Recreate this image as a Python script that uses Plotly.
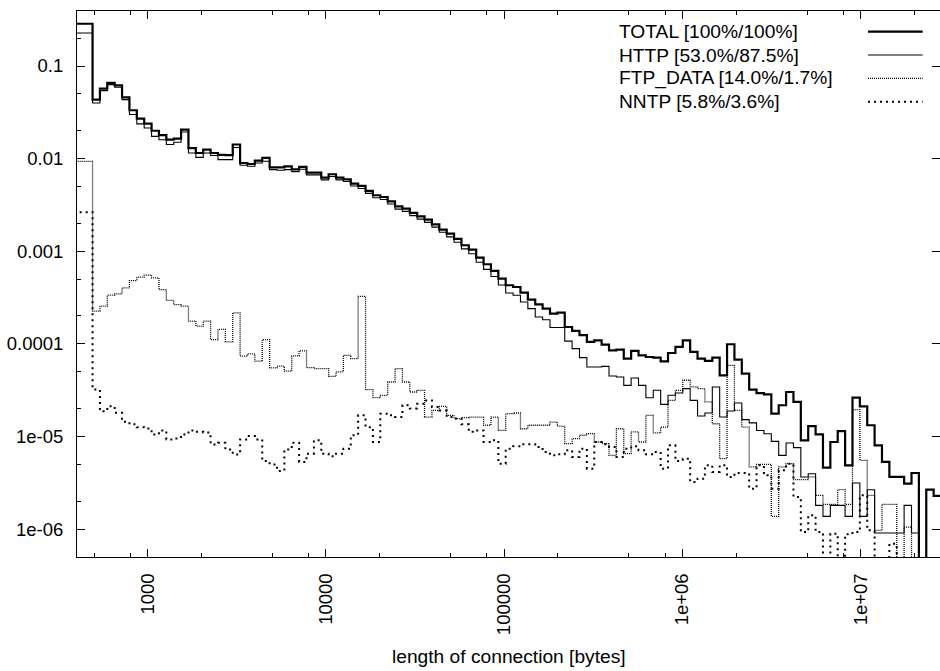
import numpy as np
import plotly.graph_objects as go

# ---------------- data ----------------
# Histogram bins: bin 0 collects everything below 1.1**65 bytes,
# bin k (k >= 1) covers [1.1**(64+k), 1.1**(65+k)] bytes.
bin_ratio = 1.1
first_upper_exp = 65
n_bins = 116

total = [
    0.286, 0.0434, 0.0569, 0.0656, 0.0618, 0.0459, 0.0333, 0.0270, 0.0239, 0.0200,
    0.0179, 0.0160, 0.0164, 0.0206, 0.0130, 0.0115, 0.0125, 0.0115, 0.0110, 0.0109,
    0.0142, 0.00897, 0.00875, 0.00951, 0.0102, 0.00805, 0.00805, 0.00826, 0.00767, 0.00813,
    0.00706, 0.00706, 0.00624, 0.00678, 0.00624, 0.00598, 0.00537, 0.00507, 0.00448, 0.00402,
    0.00385, 0.00346, 0.00305, 0.00288, 0.00259, 0.00238, 0.00219, 0.00195, 0.00171, 0.00155,
    0.00136, 0.00116, 0.00104, 8.53e-4, 7.23e-4, 6.12e-4, 5.06e-4, 4.29e-4, 4.11e-4, 3.57e-4,
    3.00e-4, 2.67e-4, 2.40e-4, 2.12e-4, 2.17e-4, 1.52e-4, 1.38e-4, 1.24e-4, 1.05e-4, 1.09e-4,
    9.79e-5, 8.51e-5, 8.65e-5, 6.92e-5, 8.38e-5, 7.52e-5, 7.21e-5, 7.10e-5, 6.47e-5, 7.96e-5,
    9.25e-5, 1.09e-4, 8.17e-5, 6.92e-5, 6.53e-5, 7.10e-5, 4.57e-5, 9.89e-5, 6.75e-5, 4.76e-5,
    3.20e-5, 2.94e-5, 2.85e-5, 1.76e-5, 2.17e-5, 3.02e-5, 2.36e-5, 9.08e-6, 1.29e-5, 1.05e-5,
    4.60e-6, 8.71e-6, 1.14e-5, 4.88e-6, 2.62e-5, 2.11e-5, 1.32e-5, 8.02e-6, 5.30e-6, 3.65e-6,
    3.65e-6, 3.09e-6, 4.03e-6, 0, 2.66e-6, 2.28e-6,
]

http = [
    0.227, 0.0399, 0.0542, 0.0630, 0.0589, 0.0434, 0.0299, 0.0237, 0.0214, 0.0174,
    0.0160, 0.0142, 0.0150, 0.0194, 0.0115, 0.0103, 0.0115, 0.0108, 0.00975, 0.00975,
    0.0132, 0.00847, 0.00826, 0.00897, 0.00935, 0.00760, 0.00748, 0.00760, 0.00724, 0.00767,
    0.00667, 0.00667, 0.00589, 0.00640, 0.00589, 0.00565, 0.00507, 0.00476, 0.00421, 0.00378,
    0.00362, 0.00323, 0.00285, 0.00269, 0.00242, 0.00222, 0.00205, 0.00182, 0.00160, 0.00143,
    0.00125, 0.00106, 9.38e-4, 7.60e-4, 6.37e-4, 5.33e-4, 4.31e-4, 3.54e-4, 3.34e-4, 2.83e-4,
    2.40e-4, 1.95e-4, 1.82e-4, 1.50e-4, 1.50e-4, 1.07e-4, 8.87e-5, 7.10e-5, 5.62e-5, 5.62e-5,
    5.71e-5, 4.50e-5, 4.39e-5, 3.56e-5, 4.28e-5, 3.56e-5, 2.62e-5, 3.15e-5, 2.22e-5, 2.78e-5,
    2.94e-5, 3.28e-5, 2.45e-5, 1.66e-5, 1.79e-5, 3.42e-5, 1.62e-5, 1.88e-5, 2.30e-5, 1.52e-5,
    1.40e-5, 1.16e-5, 1.07e-5, 8.85e-6, 6.25e-6, 8.49e-6, 7.57e-6, 3.65e-6, 3.96e-6, 1.80e-6,
    1.37e-6, 1.80e-6, 1.80e-6, 1.37e-6, 3.14e-6, 1.37e-6, 2.66e-6, 9.06e-7, 9.06e-7, 9.06e-7,
    9.06e-7, 1.80e-6, 9.06e-7, 0, 0, 0,
]

ftp_data = [
    0.00935, 2.25e-4, 2.55e-4, 3.35e-4, 3.47e-4, 4.02e-4, 4.82e-4, 5.24e-4, 5.51e-4, 5.15e-4,
    3.85e-4, 2.94e-4, 2.65e-4, 2.55e-4, 1.76e-4, 1.55e-4, 1.76e-4, 1.11e-4, 1.43e-4, 1.05e-4,
    2.16e-4, 7.36e-5, 7.80e-5, 6.50e-5, 1.11e-4, 5.51e-5, 5.74e-5, 5.07e-5, 7.41e-5, 8.38e-5,
    5.53e-5, 5.40e-5, 5.40e-5, 4.46e-5, 4.97e-5, 7.52e-5, 6.92e-5, 3.26e-4, 3.20e-5, 2.62e-5,
    2.78e-5, 3.87e-5, 5.40e-5, 3.87e-5, 3.02e-5, 3.15e-5, 1.62e-5, 1.91e-5, 2.11e-5, 1.69e-5,
    1.56e-5, 1.60e-5, 1.62e-5, 1.62e-5, 1.32e-5, 1.62e-5, 1.16e-5, 1.76e-5, 1.79e-5, 1.21e-5,
    1.32e-5, 1.32e-5, 1.32e-5, 1.43e-5, 1.29e-5, 8.36e-6, 9.46e-6, 1.03e-5, 1.07e-5, 8.71e-6,
    8.36e-6, 6.25e-6, 1.21e-5, 6.52e-6, 1.12e-5, 8.71e-6, 1.69e-5, 1.09e-5, 1.26e-5, 2.45e-5,
    3.15e-5, 4.04e-5, 3.42e-5, 3.28e-5, 2.36e-5, 1.37e-5, 5.75e-6, 5.86e-5, 1.91e-5, 1.26e-5,
    4.68e-6, 5.00e-6, 5.00e-6, 1.37e-6, 4.68e-6, 5.08e-6, 3.41e-6, 3.41e-6, 3.65e-6, 2.31e-6,
    1.85e-6, 1.85e-6, 2.66e-6, 1.85e-6, 1.95e-5, 5.52e-6, 2.31e-6, 9.68e-7, 1.85e-6, 1.85e-6,
    0, 1.05e-6, 0, 0, 0, 0,
]

nntp = [
    0.00264, 3.21e-5, 1.87e-5, 2.12e-5, 1.80e-5, 1.44e-5, 1.35e-5, 1.26e-5, 1.22e-5, 1.05e-5,
    1.16e-5, 9.29e-6, 9.51e-6, 1.05e-5, 1.16e-5, 1.12e-5, 1.10e-5, 8.20e-6, 8.55e-6, 7.24e-6,
    6.40e-6, 9.29e-6, 1.01e-5, 9.29e-6, 5.42e-6, 4.99e-6, 4.23e-6, 7.24e-6, 8.55e-6, 5.30e-6,
    6.52e-6, 9.08e-6, 6.52e-6, 6.10e-6, 6.52e-6, 7.38e-6, 1.03e-5, 1.69e-5, 1.26e-5, 8.71e-6,
    1.76e-5, 1.69e-5, 1.62e-5, 2.17e-5, 2.00e-5, 2.26e-5, 2.45e-5, 2.08e-5, 1.91e-5, 1.62e-5,
    1.56e-5, 1.35e-5, 1.12e-5, 1.16e-5, 8.71e-6, 9.08e-6, 5.08e-6, 7.38e-6, 7.82e-6, 8.22e-6,
    8.22e-6, 7.69e-6, 6.79e-6, 6.25e-6, 6.41e-6, 7.08e-6, 6.00e-6, 7.38e-6, 4.49e-6, 8.71e-6,
    8.22e-6, 7.69e-6, 6.00e-6, 7.38e-6, 7.82e-6, 7.08e-6, 6.41e-6, 6.79e-6, 4.49e-6, 8.02e-6,
    5.43e-6, 5.75e-6, 3.22e-6, 3.50e-6, 4.88e-6, 4.13e-6, 4.88e-6, 3.65e-6, 4.03e-6, 4.03e-6,
    2.73e-6, 4.88e-6, 3.80e-6, 2.73e-6, 4.31e-6, 5.08e-6, 2.22e-6, 9.29e-7, 1.41e-6, 9.29e-7,
    0, 8.91e-7, 0, 8.77e-7, 9.29e-7, 2.31e-6, 9.68e-7, 0, 0, 6.95e-7,
    0, 0, 0, 0, 0, 0,
]

series_names = [
    "TOTAL [100%/100%]",
    "HTTP [53.0%/87.5%]",
    "FTP_DATA [14.0%/1.7%]",
    "NNTP [5.8%/3.6%]",
]

x_tick_vals = [1e3, 1e4, 1e5, 1e6, 1e7]
x_tick_text = ["1000", "10000", "100000", "1e+06", "1e+07"]
y_tick_vals = [1e-6, 1e-5, 1e-4, 1e-3, 1e-2, 1e-1]
y_tick_text = ["1e-06", "1e-05", "0.0001", "0.001", "0.01", "0.1"]
x_minor_mult = [2, 5, 8]
y_minor_mult = [2, 5]
x_title = "length of connection [bytes]"

# ---------------- build figure ----------------
edges = [bin_ratio ** (first_upper_exp - 5)] + [
    bin_ratio ** (first_upper_exp + i) for i in range(n_bins)
]
FLOOR = 1e-9  # empty bins drop below the axis, as in the original


def step_xy(vals):
    ys = [v if v > 0 else FLOOR for v in vals]
    return edges, ys + [ys[-1]]


styles = [
    dict(color="black", width=2.2),
    dict(color="black", width=1.1),
    dict(color="black", width=1.3, dash="1px,1px"),
    dict(color="black", width=2, dash="2px,4px"),
]

FONT = "Liberation Sans, Arial, Helvetica, sans-serif"
FS_TICK = 18.5
FS_TEXT = 19.2

fig = go.Figure()
for name, vals, st in zip(series_names, [total, http, ftp_data, nntp], styles):
    xs, ys = step_xy(vals)
    fig.add_trace(go.Scatter(x=xs, y=ys, mode="lines", line_shape="hv",
                             line=st, name=name, showlegend=False,
                             hoverinfo="skip"))

# dummy traces so the mirrored (top / right) tick axes are drawn
fig.add_trace(go.Scatter(x=[None], y=[None], xaxis="x2", yaxis="y",
                         showlegend=False, hoverinfo="skip"))
fig.add_trace(go.Scatter(x=[None], y=[None], xaxis="x", yaxis="y2",
                         showlegend=False, hoverinfo="skip"))

x_range = [2.6033, 7.445]
y_range = [-6.302, -0.406]
x_minor = [m * 10 ** e for e in range(2, 8) for m in x_minor_mult]
y_minor = [m * 10.0 ** e for e in range(-7, 0) for m in y_minor_mult]

tick_common = dict(ticks="inside", ticklen=8, tickwidth=1, tickcolor="black",
                   showgrid=False, zeroline=False)

fig.update_layout(
    width=940, height=671,
    margin=dict(l=77, r=0, t=11, b=114, pad=0),
    paper_bgcolor="white", plot_bgcolor="white",
    font=dict(family=FONT, size=FS_TICK, color="black"),
    xaxis=dict(type="log", range=x_range, showline=True, linecolor="black",
               linewidth=1, tickvals=x_tick_vals, ticktext=x_tick_text,
               tickangle=-90, ticklabelstandoff=8,
               tickfont=dict(family=FONT, size=FS_TICK, color="black"),
               minor=dict(tickvals=x_minor, ticks="inside", ticklen=4,
                          tickwidth=1, tickcolor="black", showgrid=False),
               **tick_common),
    xaxis2=dict(type="log", range=x_range, overlaying="x", side="top",
                anchor="y", showline=True, linecolor="black", linewidth=1,
                tickvals=x_tick_vals, showticklabels=False,
                minor=dict(tickvals=x_minor, ticks="inside", ticklen=4,
                           tickwidth=1, tickcolor="black", showgrid=False),
                **tick_common),
    yaxis=dict(type="log", range=y_range, showline=True, linecolor="black",
               linewidth=1, tickvals=y_tick_vals, ticktext=y_tick_text,
               ticklabelstandoff=9,
               tickfont=dict(family=FONT, size=FS_TICK, color="black"),
               minor=dict(tickvals=y_minor, ticks="inside", ticklen=4,
                          tickwidth=1, tickcolor="black", showgrid=False),
               **tick_common),
    yaxis2=dict(type="log", range=y_range, overlaying="y", side="right",
                anchor="x", showline=False, tickvals=y_tick_vals,
                showticklabels=False, **tick_common),
)

# x-axis title
fig.add_annotation(text=x_title, xref="paper", yref="paper", x=0.5,
                   y=-0.1826, xanchor="center", yanchor="middle",
                   showarrow=False, font=dict(family=FONT, size=FS_TEXT, color="black"))

# gnuplot-style key: text on the left, line sample on the right
key_rows_y = [0.9621, 0.9194, 0.8767, 0.8339]
key_text_x = 0.6254
key_line_x = [0.9166, 0.9799]
for name, st, ky in zip(series_names, styles, key_rows_y):
    fig.add_annotation(text=name, xref="paper", yref="paper", x=key_text_x,
                       y=ky, xanchor="left", yanchor="middle", showarrow=False,
                       font=dict(family=FONT, size=FS_TEXT, color="black"))
    fig.add_shape(type="line", xref="paper", yref="paper",
                  x0=key_line_x[0], x1=key_line_x[1], y0=ky, y1=ky,
                  line=dict(color=st["color"], width=st["width"],
                            dash=st.get("dash", "solid")))

fig.write_html("out.html")
